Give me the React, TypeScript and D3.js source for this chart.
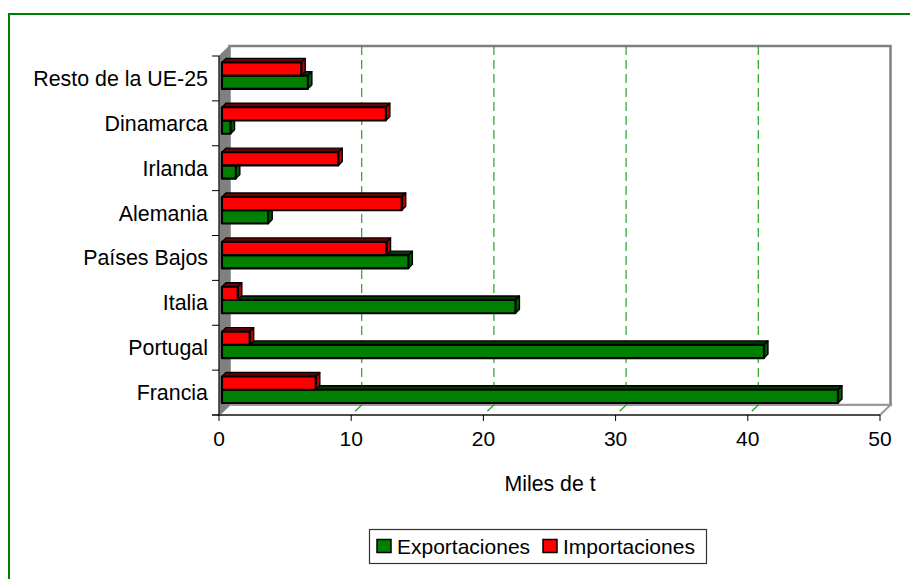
import React from "react";
import * as d3 from "d3";

const categories = ["Resto de la UE-25", "Dinamarca", "Irlanda", "Alemania", "Países Bajos", "Italia", "Portugal", "Francia"];
const exportaciones = [6.5, 0.65, 1.05, 3.5, 14.1, 22.2, 41.0, 46.6];
const importaciones = [6.0, 12.4, 8.8, 13.6, 12.45, 1.2, 2.1, 7.1];
const xTicks = [0, 10, 20, 30, 40, 50];
const seriesNames = ["Importaciones", "Exportaciones"];
const legendNames = ["Exportaciones", "Importaciones"];

const W = 910, H = 579;
const FONT = "'Liberation Sans', Arial, sans-serif";
const DX = 10.5, DY = -10; // wall depth
const BD = 0.28; // bars depth fraction
const BDX = 4, BDY = -4; // bar 3D extrusion

const colors: Record<string, { front: string; top: string; side: string }> = {
  Exportaciones: { front: "#008000", top: "#003a00", side: "#005a00" },
  Importaciones: { front: "#ff0000", top: "#6e0000", side: "#b00000" },
};

export default function App() {
  const x = d3.scaleLinear().domain([0, 50]).range([219, 880]);
  const y = d3.scaleBand<string>().domain(categories).range([56, 415]).paddingInner(0.41).paddingOuter(0.205);
  const ySub = d3.scaleBand<string>().domain(seriesNames).range([0, y.bandwidth()]);
  const step = y.step();
  const top = 56, bottom = 415, left = 219, right = 880;

  const bars: { cat: string; s: string; v: number; i: number }[] = [];
  // draw from bottom to top so upper bars cover lower top faces
  for (let i = categories.length - 1; i >= 0; i--) {
    bars.push({ cat: categories[i], s: "Exportaciones", v: exportaciones[i], i });
    bars.push({ cat: categories[i], s: "Importaciones", v: importaciones[i], i });
  }

  const pts = (a: number[][]) => a.map((p) => p.join(",")).join(" ");

  return (
    <svg width={W} height={H} style={{ position: "absolute", left: 0, top: 0, background: "#fff" }} fontFamily={FONT}>
      <rect x={9} y={14} width={W + 20} height={H + 20} fill="#fff" stroke="#008000" strokeWidth={2} />
      {/* back wall */}
      <rect x={left + DX} y={top + DY} width={right - left} height={bottom - top} fill="#fff" stroke="#808080" strokeWidth={2.5} />
      {/* floor */}
      <polygon points={pts([[left, bottom], [left + DX, bottom + DY], [right + DX, bottom + DY], [right, bottom]])} fill="#fff" stroke="#9a9a9a" strokeWidth={2} />
      {/* left wall */}
      <polygon points={pts([[left, top], [left + DX, top + DY], [left + DX, bottom + DY], [left, bottom]])} fill="#808080" stroke="#808080" strokeWidth={1} />
      {/* gridlines */}
      {xTicks.filter((t) => t > 0 && t < 50).map((t) => (
        <g key={t} stroke="#22a022" strokeWidth={1.2} strokeDasharray="9,5" fill="none">
          <line x1={x(t) + DX} x2={x(t) + DX} y1={top + DY} y2={bottom + DY} />
          <line x1={x(t) + DX} x2={x(t)} y1={bottom + DY} y2={bottom} />
        </g>
      ))}
      {/* bars */}
      {bars.map((b) => {
        const c = colors[b.s];
        const x0 = x(0) + BD * DX;
        const x1 = x(b.v) + BD * DX;
        const y0 = (y(b.cat) as number) + (ySub(b.s) as number) + BD * DY;
        const h = ySub.bandwidth();
        return (
          <g key={b.cat + b.s} stroke="#000" strokeWidth={1.4} strokeLinejoin="round">
            <polygon points={pts([[x0, y0], [x1, y0], [x1 + BDX, y0 + BDY], [x0 + BDX, y0 + BDY]])} fill={c.top} />
            <polygon points={pts([[x1, y0], [x1 + BDX, y0 + BDY], [x1 + BDX, y0 + h + BDY], [x1, y0 + h]])} fill={c.side} />
            <rect x={x0} y={y0} width={x1 - x0} height={h} fill={c.front} strokeWidth={2.2} />
          </g>
        );
      })}
      {/* axes */}
      <line x1={left} x2={left} y1={top} y2={bottom} stroke="#000" strokeWidth={1} />
      <line x1={212} x2={right} y1={bottom} y2={bottom} stroke="#000" strokeWidth={1} />
      {d3.range(categories.length + 1).map((k) => (
        <line key={k} x1={212} x2={left} y1={top + k * step} y2={top + k * step} stroke="#000" strokeWidth={1} />
      ))}
      {xTicks.map((t) => (
        <g key={t}>
          <line x1={x(t)} x2={x(t)} y1={bottom} y2={bottom + 6} stroke="#000" strokeWidth={1} />
          <text x={x(t)} y={446} textAnchor="middle" fontSize={21} fill="#000">{t}</text>
        </g>
      ))}
      {categories.map((c) => (
        <text key={c} x={208} y={(y(c) as number) - y.step() * 0.205 + step / 2 + 7.5} textAnchor="end" fontSize={21.4} fill="#000">{c}</text>
      ))}
      <text x={550} y={491} textAnchor="middle" fontSize={21.3} fill="#000">Miles de t</text>
      {/* legend */}
      <rect x={369.5} y={529.5} width={337} height={34} fill="#fff" stroke="#333" strokeWidth={1.2} />
      {legendNames.map((n, i) => {
        const lx = i === 0 ? 377 : 543;
        return (
          <g key={n}>
            <rect x={lx} y={539.5} width={14} height={13} fill={colors[n].front} stroke="#000" strokeWidth={1.5} />
            <text x={lx + 20} y={553.5} fontSize={21} fill="#000">{n}</text>
          </g>
        );
      })}
    </svg>
  );
}
